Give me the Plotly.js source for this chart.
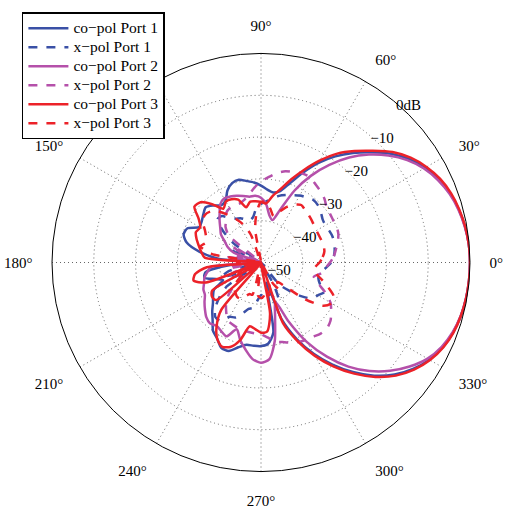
<!DOCTYPE html>
<html>
<head>
<meta charset="utf-8">
<script src="https://cdn.plot.ly/plotly-3.0.1.min.js"></script>
<style>html,body{margin:0;padding:0;background:#fff;}#chart{width:510px;height:524px;}</style>
</head>
<body>
<div id="chart"></div>
<script>
// Angles (degrees)
var angles = [0,5,10,15,20,25,30,35,40,45,50,55,60,65,70,75,80,85,90,95,100,105,110,115,120,125,130,135,140,145,150,155,160,165,170,175,180,185,190,195,200,205,210,215,220,225,230,235,240,245,250,255,260,265,270,275,280,285,290,295,300,305,310,315,320,325,330,335,340,345,350,355,360];

// Patterns in dB
var coPol1 = [0,-0.1,-0.45,-1.0,-1.8,-3.0,-4.7,-6.8,-9.5,-12.7,-15.8,-19,-22.5,-26.3,-29.8,-32.3,-33,-32.5,-31.6,-30.8,-30.2,-29.5,-29.8,-31,-33,-33.3,-32.2,-31.3,-32,-32.7,-33,-30.6,-30.3,-31.6,-35,-40,-50,-42,-36.5,-36,-38.5,-40,-37,-36,-35,-33.5,-32,-30,-29,-27.5,-27.5,-29,-30,-30,-30,-30.5,-33,-45,-35.5,-29.8,-24.8,-20.2,-15.8,-11.7,-8.3,-5.6,-3.5,-2.0,-1.1,-0.5,-0.2,-0.05,0];
var xPol1 = [-33.2,-32.5,-32.1,-31.9,-31.8,-32,-32.2,-32,-31.3,-30.7,-30.5,-31,-31.5,-32.2,-32.8,-33.5,-34.5,-35.3,-36,-37,-39,-39.6,-39,-38.3,-37.9,-37,-35.5,-35.3,-38,-42,-50,-42,-44,-50,-44,-50,-46,-44,-50,-42,-40,-44,-50,-40,-37,-34.5,-33,-33,-35,-35.5,-37,-38.5,-39,-41,-42.2,-42,-42,-43,-41,-40,-44,-50,-43,-40.5,-37.5,-35,-34.3,-33.3,-35,-35.8,-35.5,-34.5,-33.2];
var coPol2 = [0,-0.1,-0.5,-1.1,-2.0,-3.3,-5.0,-7.3,-10.2,-13.5,-17.2,-21.5,-26,-31,-36.5,-39.5,-38.5,-36,-34.5,-34,-34,-33.5,-33,-32.6,-32.3,-33,-34.6,-36,-37.3,-38.3,-40,-41.2,-43,-50,-42,-45,-50,-38,-37,-36,-35.5,-34.8,-34.5,-33.5,-32.5,-31.5,-31,-31.5,-31,-30.5,-33,-30.8,-28.8,-26.8,-26,-26.8,-31,-37,-40,-34.5,-28,-22.5,-17.5,-13.3,-9.7,-6.6,-4.0,-2.3,-1.2,-0.55,-0.2,-0.05,0];
var xPol2 = [-33.5,-32.5,-31.8,-31,-30.3,-30,-30,-29.8,-29.5,-28.5,-27.8,-27.2,-26.5,-26.5,-27,-27.4,-28.3,-29.5,-30.6,-32,-33.5,-34.5,-35,-35,-35,-35.5,-37,-38,-40,-50,-42,-45,-50,-44,-50,-45,-50,-44,-42,-50,-43,-41,-44,-50,-42,-39,-37,-35.5,-34,-33.7,-33.4,-33.2,-33.1,-33,-32.8,-32,-30.8,-30.3,-29.6,-29,-28.6,-28.3,-27.8,-27.7,-28.3,-29.5,-30.8,-33,-35.5,-36.9,-35.3,-34.5,-33.5];
var coPol3 = [0,-0.1,-0.4,-0.9,-1.6,-2.7,-4.3,-6.3,-8.9,-12.2,-15.2,-18.2,-21.8,-25.5,-28.8,-31.8,-33.8,-35.8,-35.5,-35.3,-35.2,-36.3,-34,-33.3,-33.2,-34.3,-31.8,-29.6,-29.2,-31.8,-33.2,-32.8,-33.6,-34.6,-35.5,-36.5,-50,-37,-34,-33.3,-36,-50,-36.5,-35.7,-36,-50,-35.2,-31.5,-29,-27.8,-28.5,-30.8,-34.5,-34,-33.2,-33.4,-37.5,-50,-34.5,-29.2,-24.2,-19.6,-15.3,-11.3,-7.9,-5.3,-3.3,-1.9,-1.0,-0.5,-0.2,-0.05,0];
var xPol3 = [-36,-35.2,-34.6,-34.5,-34.6,-34.7,-34.7,-34.5,-34.2,-33.9,-33.6,-33.2,-34,-35.3,-37,-38.5,-37,-35.5,-35.5,-38,-42,-50,-43,-40,-38,-36,-34,-32.8,-32.4,-33,-34.5,-35.5,-36,-35,-38,-50,-44,-50,-45,-50,-46,-44,-50,-44,-42,-41,-40.5,-40,-40,-41,-42,-42,-50,-42,-41.5,-42,-44,-41,-44,-50,-44,-42,-44,-42,-36.5,-32,-30.5,-30.8,-33,-35.2,-37,-37,-36];

var seriesNames = ["co\u2212pol Port 1","x\u2212pol Port 1","co\u2212pol Port 2","x\u2212pol Port 2","co\u2212pol Port 3","x\u2212pol Port 3"];
var seriesData = [coPol1, xPol1, coPol2, xPol2, coPol3, xPol3];
var seriesColors = ["#3a50a6","#3a50a6","#b550aa","#b550aa","#ec2229","#ec2229"];
var seriesDash = ["solid","dash","solid","dash","solid","dash"];

var angTicks = [0,30,60,90,120,150,180,210,240,270,300,330];
var angLabels = ["0\u00b0","30\u00b0","60\u00b0","90\u00b0","120\u00b0","150\u00b0","180\u00b0","210\u00b0","240\u00b0","270\u00b0","300\u00b0","330\u00b0"];
var radTicks = [-50,-40,-30,-20,-10,0];
var radLabels = ["\u221250","\u221240","\u221230","\u221220","\u221210","0dB"];

var serif = "Liberation Serif, Times New Roman, serif";
var radAngle = 52;

var traces = seriesData.map(function(d,i){
  return {
    type:"scatterpolar", mode:"lines", r:d, theta:angles,
    name:'<span style="font-size:15.5px">' + seriesNames[i] + '</span>',
    line:{color:seriesColors[i], width:2.5, dash:seriesDash[i], shape:"spline", smoothing:0.7}
  };
});

var layout = {
  width:510, height:524,
  margin:{l:52, r:40, t:45, b:48},
  paper_bgcolor:"#fff",
  font:{family:serif, size:15, color:"#000"},
  showlegend:true,
  legend:{x:-0.072, y:1.086, xanchor:"left", yanchor:"top", bgcolor:"#fff",
          bordercolor:"#000", borderwidth:1.5, font:{family:serif, size:11, color:"#000"},
          itemwidth:40, tracegroupgap:0},
  polar:{
    bgcolor:"#fff",
    radialaxis:{range:[-50,0], tickvals:radTicks, ticktext:radLabels, angle:radAngle, tickangle:radAngle,
      side:"clockwise", showline:false, ticks:"", gridcolor:"#666", griddash:"1px,3px", gridwidth:1,
      tickfont:{family:serif, size:15, color:"#000"}},
    angularaxis:{rotation:0, direction:"counterclockwise", tickvals:angTicks, ticktext:angLabels,
      gridcolor:"#666", griddash:"1px,3px", gridwidth:1, showline:true, linecolor:"#000", linewidth:1,
      ticks:"outside", ticklen:16, tickcolor:"rgba(0,0,0,0)",
      tickfont:{family:serif, size:15, color:"#000"}}
  }
};

Plotly.newPlot("chart", traces, layout, {displayModeBar:false, staticPlot:true});
</script>
</body>
</html>
